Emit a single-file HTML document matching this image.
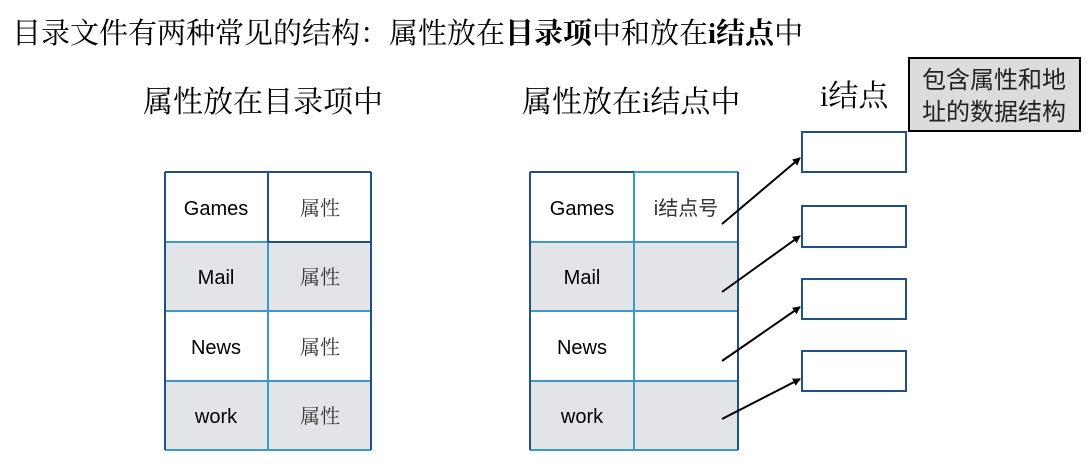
<!DOCTYPE html>
<html><head><meta charset="utf-8"><style>
body{margin:0;background:#fff;width:1092px;height:464px;overflow:hidden}
svg text{font-family:"Liberation Serif","Noto Serif CJK SC",serif}
.s{font-family:"Liberation Sans","Noto Sans CJK SC",sans-serif !important}
</style></head><body>
<svg width="1092" height="464" xmlns="http://www.w3.org/2000/svg">
<defs><marker id="a" markerWidth="8" markerHeight="8" refX="7" refY="4" orient="auto" markerUnits="userSpaceOnUse"><path d="M0,0 L8,4 L0,8 z" fill="#000"/></marker></defs>
<text x="12" y="43" font-size="29">目录文件有两种常见的结构：属性放在<tspan font-weight="bold">目录项</tspan>中和放在<tspan font-weight="bold">i结点</tspan>中</text>
<text x="143" y="112" font-size="30">属性放在目录项中</text>
<text x="522" y="112" font-size="30">属性放在i结点中</text>
<text x="820" y="106" font-size="30">i结点</text>
<rect x="909" y="58" width="171" height="73" fill="#dcdcdc" stroke="#000" stroke-width="2"/>
<text x="994" y="88" font-size="24" text-anchor="middle" class="s" fill="#222">包含属性和地</text>
<text x="994" y="120" font-size="24" text-anchor="middle" class="s" fill="#222">址的数据结构</text>
<!-- left table -->
<g>
<rect x="165" y="242" width="206" height="69" fill="#e3e4e8"/>
<rect x="165" y="381" width="206" height="69" fill="#e3e4e8"/>
<g stroke="#3a9ac9" stroke-width="2">
<line x1="165" y1="311" x2="371" y2="311"/><line x1="165" y1="381" x2="371" y2="381"/>
<line x1="268" y1="242" x2="268" y2="450"/><line x1="165" y1="450" x2="371" y2="450"/>
<line x1="165" y1="242" x2="268" y2="242"/>
</g>
<g stroke="#1f5088" stroke-width="2" fill="none">
<line x1="165" y1="172" x2="371" y2="172"/><line x1="165" y1="172" x2="165" y2="450"/><line x1="371" y1="172" x2="371" y2="450"/>
<line x1="268" y1="172" x2="268" y2="242"/><line x1="268" y1="242" x2="371" y2="242"/>
</g>
<g font-size="20" text-anchor="middle">
<text x="216" y="215" class="s">Games</text><text x="216" y="284" class="s">Mail</text><text x="216" y="354" class="s">News</text><text x="216" y="423" class="s">work</text>
<text x="320" y="215" fill="#333">属性</text><text x="320" y="284" fill="#333">属性</text><text x="320" y="354" fill="#333">属性</text><text x="320" y="423" fill="#333">属性</text>
</g>
</g>
<!-- right table -->
<g>
<rect x="530" y="242" width="208" height="69" fill="#e3e4e8"/>
<rect x="530" y="381" width="208" height="69" fill="#e3e4e8"/>
<g stroke="#3a9ac9" stroke-width="2">
<line x1="530" y1="242" x2="738" y2="242"/><line x1="530" y1="311" x2="738" y2="311"/><line x1="530" y1="381" x2="738" y2="381"/>
<line x1="634" y1="172" x2="634" y2="450"/><line x1="530" y1="450" x2="738" y2="450"/><line x1="634" y1="172" x2="738" y2="172"/>
</g>
<g stroke="#1f5088" stroke-width="2">
<line x1="530" y1="172" x2="634" y2="172"/><line x1="530" y1="172" x2="530" y2="450"/><line x1="738" y1="172" x2="738" y2="450"/>
</g>
<g font-size="20" text-anchor="middle">
<text x="582" y="215" class="s">Games</text><text x="582" y="284" class="s">Mail</text><text x="582" y="354" class="s">News</text><text x="582" y="423" class="s">work</text>
<text x="686" y="215" fill="#333" class="s">i结点号</text>
</g>
</g>
<g fill="none" stroke="#1f5088" stroke-width="2">
<rect x="802" y="132" width="104" height="40"/>
<rect x="802" y="206" width="104" height="41"/>
<rect x="802" y="279" width="104" height="40"/>
<rect x="802" y="351" width="104" height="40"/>
</g>
<g stroke="#000" stroke-width="2" marker-end="url(#a)">
<line x1="722" y1="224" x2="800" y2="158"/>
<line x1="722" y1="292" x2="800" y2="236"/>
<line x1="722" y1="361" x2="800" y2="307"/>
<line x1="722" y1="419" x2="800" y2="379"/>
</g>
</svg>
</body></html>
